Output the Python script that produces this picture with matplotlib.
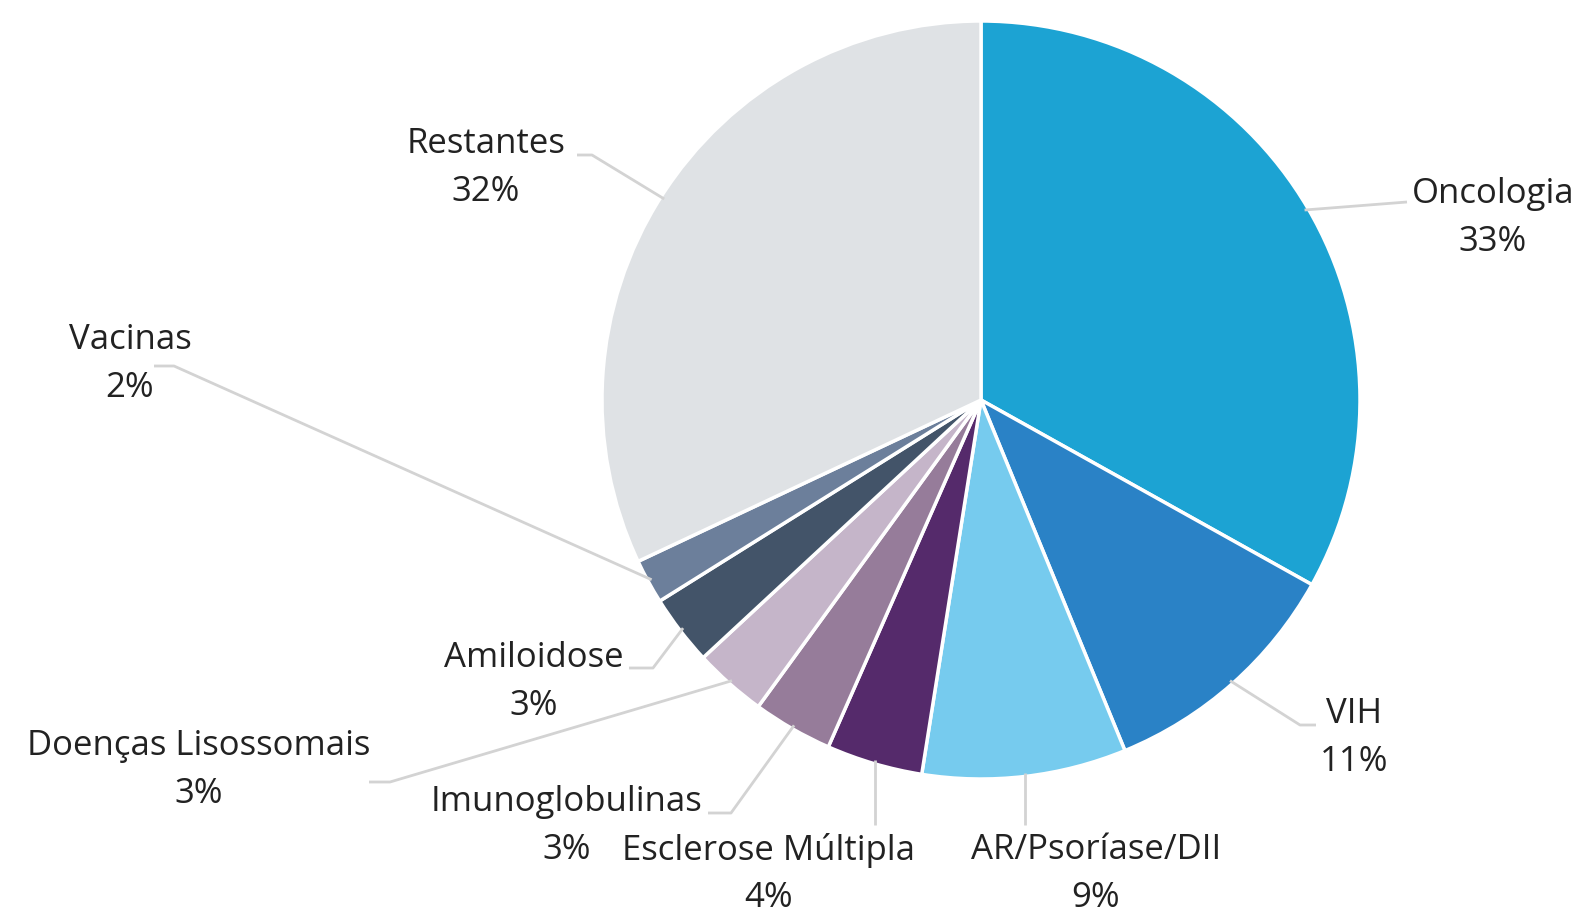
import numpy as np
import matplotlib.pyplot as plt

# dados (percentagens)
categorias = ["Oncologia", "VIH", "AR/Psoríase/DII", "Esclerose Múltipla",
              "Imunoglobulinas", "Doenças Lisossomais", "Amiloidose",
              "Vacinas", "Restantes"]
valores = [33.1, 10.7, 8.7, 4.1, 3.4, 3.1, 3.0, 1.9, 32.0]
rotulos_pct = ["33%", "11%", "9%", "4%", "3%", "3%", "3%", "2%", "32%"]
cores = ["#1CA3D3", "#2A82C6", "#76CBEE", "#552A6B", "#967C9A",
         "#C5B5C9", "#435469", "#6C7F9B", "#DFE2E5"]

# geometria em pixels da imagem
W, H = 1587, 914
cx, cy, R = 981, 400, 379

# posição do texto (centro do nome) e cotovelo da linha guia, em pixels
texto_pos = [(1493, 194), (1354, 714), (1096, 850), (769, 850),
             (567, 802), (199, 746), (534, 658), (130, 340), (486, 144)]
cotovelo = [None, (1300, 725), "v", "v", (731, 813), (390, 782),
            (653, 668), (174, 366), (592, 155)]
fim_linha = [(1407, 202), (1316, 725), (None, 825), (None, 825), (708, 813),
             (369, 782), (629, 668), (154, 366), (577, 155)]


def px(x, y):
    return (x - cx) / R, (cy - y) / R


plt.rcParams['font.family'] = ['Open Sans', 'DejaVu Sans']

fig = plt.figure(figsize=(W / 100, H / 100), dpi=100)
ax = fig.add_axes([0, 0, 1, 1])
ax.axis('off')

wedges, _ = ax.pie(valores, colors=cores, startangle=90, counterclock=False,
                   radius=1, center=(0, 0),
                   wedgeprops=dict(edgecolor='white', linewidth=2.5))
ax.set_xlim(-cx / R, (W - cx) / R)
ax.set_ylim(-(H - cy) / R, cy / R)
ax.set_aspect('auto')

cor_linha = "#D3D3D3"
cor_texto = "#222222"

for i, w in enumerate(wedges):
    ang = np.deg2rad((w.theta1 + w.theta2) / 2)
    ex, ey = 0.99 * np.cos(ang), 0.99 * np.sin(ang)
    fx, fy = fim_linha[i]
    if cotovelo[i] == "v":
        pts = [(ex, ey), (ex, px(0, fy)[1])]
    elif cotovelo[i] is None:
        pts = [(ex, ey), px(fx, fy)]
    else:
        pts = [(ex, ey), px(*cotovelo[i]), px(fx, fy)]
    xs, ys = zip(*pts)
    ax.plot(xs, ys, color=cor_linha, lw=2, solid_capstyle='butt', zorder=1)

    tx, ty = texto_pos[i]
    ax.text(*px(tx, ty), categorias[i], ha='center', va='center',
            fontsize=25, color=cor_texto)
    ax.text(*px(tx, ty + 48), rotulos_pct[i], ha='center', va='center',
            fontsize=25, color=cor_texto)

fig.savefig("out.png", dpi=100, facecolor='white')
